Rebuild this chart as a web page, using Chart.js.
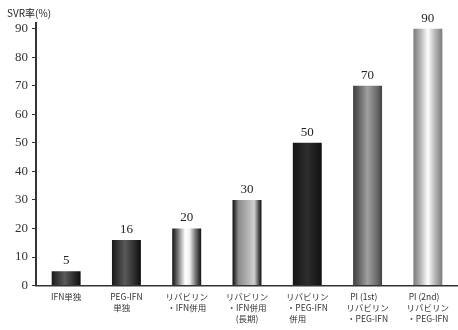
<!DOCTYPE html>
<html>
<head>
<meta charset="utf-8">
<script src="https://cdn.jsdelivr.net/npm/chart.js@4"></script>
<style>
html,body{margin:0;padding:0;background:#fff;}
#wrap{width:458px;height:330px;position:relative;}
</style>
</head>
<body>
<div id="wrap"><canvas id="c" width="458" height="330"></canvas></div>
<script>
const categories = [
  "IFN単独",
  ["PEG-IFN", "単独     "],
  ["リバビリン", "・IFN併用"],
  ["リバビリン", "・IFN併用", "(長期)"],
  ["リバビリン", "・PEG-IFN", "併用          "],
  ["PI (1st)    ", "リバビリン", "・PEG-IFN"],
  ["PI (2nd)    ", "リバビリン", "・PEG-IFN"]
];
const svrRates = [5, 16, 20, 30, 50, 70, 90];
const yTicks = [0, 10, 20, 30, 40, 50, 60, 70, 80, 90];
const axisTitle = "SVR率(%)";

// gradient stops per bar (cylinder shading)
const barShades = [
  [[0,'#1a1a1a'],[0.45,'#5a5a5a'],[1,'#0e0e0e']],
  [[0,'#1a1a1a'],[0.45,'#5a5a5a'],[1,'#0e0e0e']],
  [[0,'#111'],[0.2,'#777'],[0.45,'#fff'],[0.6,'#f0f0f0'],[0.8,'#777'],[1,'#111']],
  [[0,'#0a0a0a'],[0.2,'#8a8a8a'],[0.5,'#b0b0b0'],[0.75,'#d0d0d0'],[0.9,'#555'],[1,'#0a0a0a']],
  [[0,'#151515'],[0.5,'#2e2e2e'],[1,'#111']],
  [[0,'#404040'],[0.15,'#5a5a5a'],[0.5,'#a0a0a0'],[0.85,'#666'],[1,'#404040']],
  [[0,'#7a7a7a'],[0.25,'#b5b5b5'],[0.5,'#ffffff'],[0.75,'#b5b5b5'],[1,'#7a7a7a']]
];

const shadePlugin = {
  id: 'shade',
  beforeDatasetsDraw(chart) {
    const ctx = chart.ctx;
    const meta = chart.getDatasetMeta(0);
    meta.data.forEach((el, i) => {
      const w = el.width;
      const g = ctx.createLinearGradient(el.x - w/2, 0, el.x + w/2, 0);
      barShades[i].forEach(s => g.addColorStop(s[0], s[1]));
      el.options.backgroundColor = g;
    });
  },
  afterDatasetsDraw(chart) {
    const ctx = chart.ctx;
    const meta = chart.getDatasetMeta(0);
    ctx.save();
    ctx.font = '13px "Liberation Serif", "DejaVu Serif", serif';
    ctx.fillStyle = '#222';
    ctx.textAlign = 'center';
    ctx.textBaseline = 'bottom';
    meta.data.forEach((el, i) => {
      ctx.fillText(String(svrRates[i]), el.x, el.y - 4);
    });
    ctx.restore();
  },
  afterDraw(chart) {
    const ctx = chart.ctx;
    ctx.save();
    ctx.font = '10px "Noto Sans CJK JP", sans-serif';
    ctx.fillStyle = '#222';
    ctx.textAlign = 'left';
    ctx.textBaseline = 'middle';
    ctx.fillText(axisTitle, 7, 13);
    ctx.restore();
  }
};

new Chart(document.getElementById('c'), {
  type: 'bar',
  data: {
    labels: categories,
    datasets: [{
      data: svrRates,
      backgroundColor: () => '#333',
      borderWidth: 0,
      categoryPercentage: 1,
      barPercentage: 0.48
    }]
  },
  options: {
    responsive: false,
    animation: false,
    events: [],
    layout: { padding: { top: 23, right: 0, left: 11, bottom: 0 } },
    plugins: { legend: { display: false }, tooltip: { enabled: false } },
    scales: {
      x: {
        offset: true,
        grid: { display: false, drawTicks: false },
        border: { display: true, color: '#333', width: 1.5 },
        ticks: {
          color: '#333',
          font: { size: 8.5, family: '"Noto Sans CJK JP", sans-serif', lineHeight: 1.35 },
          padding: 5,
          maxRotation: 0,
          autoSkip: false
        }
      },
      y: {
        min: 0,
        max: 92,
        afterBuildTicks(axis) { axis.ticks = yTicks.map(v => ({ value: v })); },
        grid: { drawOnChartArea: false, drawTicks: true, tickLength: 4, color: '#333' },
        border: { display: true, color: '#333', width: 2 },
        ticks: {
          color: '#333',
          font: { size: 13, family: '"Liberation Serif", "DejaVu Serif", serif' },
          padding: 4
        }
      }
    }
  },
  plugins: [shadePlugin]
});
</script>
</body>
</html>
